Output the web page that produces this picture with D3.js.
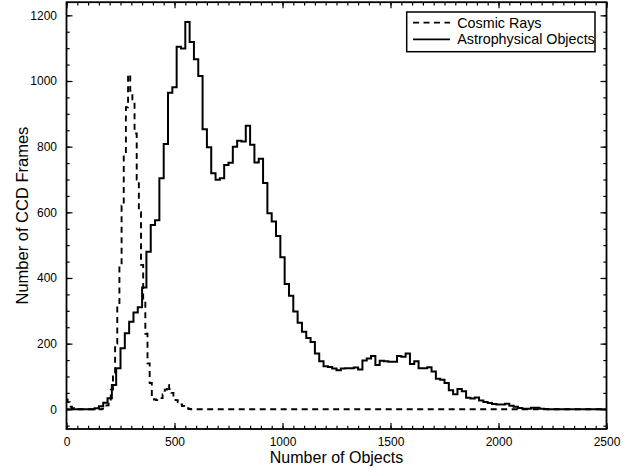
<!DOCTYPE html>
<html>
<head>
<meta charset="utf-8">
<script src="https://cdn.jsdelivr.net/npm/d3@7"></script>
<style>
  html, body { margin: 0; padding: 0; background: #fff; }
  svg { display: block; }
  text { font-family: "Liberation Sans", Arial, sans-serif; fill: #000; }
</style>
</head>
<body>
<svg id="chart" width="643" height="468"></svg>
<script>
// ---------- DATA ----------
// Astrophysical objects: histogram, bin width 20, bins starting at 0
const astroBinWidth = 20;
const astroCounts = [
  0, 0, 0, 0, 0, 0, 0, 3, 9, 20,            // 0 - 180
  34, 74, 125, 186, 232, 267, 295, 311, 371, 480,   // 200 - 380
  561, 576, 704, 808, 964, 981, 1104, 1099, 1180, 1119, // 400 - 580
  1066, 1015, 853, 798, 719, 699, 704, 744, 751, 800,   // 600 - 780
  818, 816, 864, 806, 752, 763, 689, 597, 572, 528,     // 800 - 980
  463, 382, 346, 298, 264, 236, 217, 205, 170, 146,     // 1000 - 1180
  131, 129, 124, 119, 124, 125, 125, 127, 121, 149,     // 1200 - 1380
  155, 162, 135, 148, 146, 145, 145, 162, 160, 170,     // 1400 - 1580
  138, 146, 125, 125, 128, 115, 93, 90, 80, 58,         // 1600 - 1780
  46, 62, 55, 35, 33, 36, 27, 22, 19, 16,               // 1800 - 1980
  15, 15, 17, 11, 8, 4, 2, 2, 5, 5,                     // 2000 - 2180
  2, 1, 0, 0, 0, 0, 0, 0, 0, 0,                         // 2200 - 2380
  0, 0, 0, 0, 0, 0                                      // 2400 - 2500
];
// Cosmic rays: histogram, bin width 10, bins starting at 0 (zero beyond 600 up to 2500)
const cosmicBinWidth = 10;
const cosmicCounts = [
  30, 22, 8, 3, 1, 0, 0, 0, 0, 0,            // 0 - 90
  0, 0, 0, 0, 0, 0, 0, 2, 5, 12,             // 100 - 190
  30, 60, 110, 200, 320, 440, 620, 780, 920, 1020, // 200 - 290
  970, 940, 840, 700, 600, 440, 330, 230, 140, 80, // 300 - 390
  40, 30, 28, 30, 34, 45, 60, 74, 62, 50,    // 400 - 490
  38, 28, 22, 15, 10, 6, 3, 1, 0, 0,         // 500 - 590
  0                                          // 600
];
const cosmicEnd = 2500;

const xTicks = [0, 500, 1000, 1500, 2000, 2500];
const yTicks = [0, 200, 400, 600, 800, 1000, 1200];
const xMinorStep = 50, yMinorStep = 50;
const xDomain = [0, 2500], yDomain = [-60, 1240];

const seriesNames = ["Cosmic Rays", "Astrophysical Objects"];
const xTitle = "Number of Objects";
const yTitle = "Number of CCD Frames";

// ---------- BUILD ----------
const svg = d3.select("#chart");
const PL = 66.5, PR = 606.5, PT = 2.2, PB = 429;

const x = d3.scaleLinear().domain(xDomain).range([PL, PR]);
const y = d3.scaleLinear().domain(yDomain).range([PB, PT]);

const astro = astroCounts.map((v, i) => ({ x: i * astroBinWidth, y: v }));
const cosmic = cosmicCounts.map((v, i) => ({ x: i * cosmicBinWidth, y: v }));
cosmic.push({ x: cosmicEnd, y: 0 });

const line = d3.line().x(d => x(d.x)).y(d => y(d.y)).curve(d3.curveStep);

svg.append("defs").append("clipPath").attr("id", "clip")
  .append("rect").attr("x", PL).attr("y", PT).attr("width", PR - PL).attr("height", PB - PT);

const g = svg.append("g").attr("clip-path", "url(#clip)");
g.append("path").datum(cosmic)
  .attr("d", line).attr("fill", "none").attr("stroke", "#000")
  .attr("stroke-width", 1.9).attr("stroke-dasharray", "6,4.5");
g.append("path").datum(astro)
  .attr("d", line).attr("fill", "none").attr("stroke", "#000")
  .attr("stroke-width", 2).attr("stroke-linejoin", "miter");

// Axes with inward ticks on all four sides
const xMinor = d3.range(xDomain[0], xDomain[1] + 1, xMinorStep);
const yMinor = d3.range(0, yDomain[1], yMinorStep).concat(d3.range(-yMinorStep, yDomain[0], -yMinorStep));
const MAJ = 6, MIN = 3.2;

const axBottom = d3.axisBottom(x).tickValues(xTicks).tickSize(-MAJ).tickPadding(MAJ + 2.5).tickFormat(d3.format("d"));
const axTop = d3.axisTop(x).tickValues(xTicks).tickSize(-MAJ).tickFormat("");
const axLeft = d3.axisLeft(y).tickValues(yTicks).tickSize(-MAJ).tickPadding(MAJ + 3.5).tickFormat(d3.format("d"));
const axRight = d3.axisRight(y).tickValues(yTicks).tickSize(-MAJ).tickFormat("");

const axBottomMinor = d3.axisBottom(x).tickValues(xMinor).tickSize(-MIN).tickFormat("");
const axTopMinor = d3.axisTop(x).tickValues(xMinor).tickSize(-MIN).tickFormat("");
const axLeftMinor = d3.axisLeft(y).tickValues(yMinor).tickSize(-MIN).tickFormat("");
const axRightMinor = d3.axisRight(y).tickValues(yMinor).tickSize(-MIN).tickFormat("");

function styleAxis(sel) {
  sel.select(".domain").remove();
  sel.selectAll(".tick line").attr("stroke", "#000").attr("stroke-width", 1.2);
  sel.selectAll(".tick text").style("font-size", "12px").attr("fill", "#000");
}
svg.append("g").attr("transform", `translate(0,${PB})`).call(axBottomMinor).call(styleAxis);
svg.append("g").attr("transform", `translate(0,${PT})`).call(axTopMinor).call(styleAxis);
svg.append("g").attr("transform", `translate(${PL},0)`).call(axLeftMinor).call(styleAxis);
svg.append("g").attr("transform", `translate(${PR},0)`).call(axRightMinor).call(styleAxis);
svg.append("g").attr("transform", `translate(0,${PB})`).call(axBottom).call(styleAxis);
svg.append("g").attr("transform", `translate(0,${PT})`).call(axTop).call(styleAxis);
svg.append("g").attr("transform", `translate(${PL},0)`).call(axLeft).call(styleAxis);
svg.append("g").attr("transform", `translate(${PR},0)`).call(axRight).call(styleAxis);

// Frame
svg.append("rect").attr("x", PL).attr("y", PT).attr("width", PR - PL).attr("height", PB - PT)
  .attr("fill", "none").attr("stroke", "#000").attr("stroke-width", 1.8);

// Titles
svg.append("text").attr("x", (PL + PR) / 2).attr("y", 463).attr("text-anchor", "middle")
  .style("font-size", "16px").text(xTitle);
svg.append("text").attr("transform", `translate(28,${(PT + PB) / 2}) rotate(-90)`)
  .attr("text-anchor", "middle").style("font-size", "16.5px").text(yTitle);

// Legend
const lg = svg.append("g");
lg.append("rect").attr("x", 406.7).attr("y", 12).attr("width", 188.3).attr("height", 39.7)
  .attr("fill", "#fff").attr("stroke", "#000").attr("stroke-width", 1.5);
const items = [
  { name: seriesNames[0], dash: "6,4.5", yy: 22.7 },
  { name: seriesNames[1], dash: null, yy: 39.3 }
];
items.forEach(it => {
  lg.append("line").attr("x1", 413).attr("x2", 450).attr("y1", it.yy).attr("y2", it.yy)
    .attr("stroke", "#000").attr("stroke-width", 1.8)
    .attr("stroke-dasharray", it.dash);
  lg.append("text").attr("x", 457.3).attr("y", it.yy).attr("dy", "0.35em")
    .style("font-size", "14.3px").text(it.name);
});
</script>
</body>
</html>
